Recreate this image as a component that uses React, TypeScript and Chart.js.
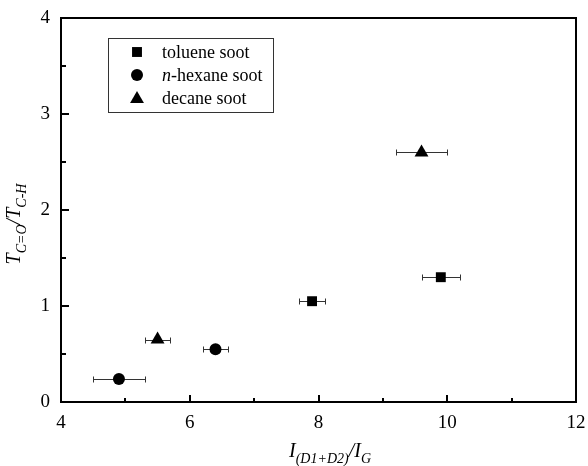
import React, { useEffect, useRef } from "react";
import { Chart, registerables } from "chart.js";

Chart.register(...registerables);

const seriesNames = ["toluene soot", "n-hexane soot", "decane soot"];
const tolueneX = [7.9, 9.9];
const tolueneY = [1.05, 1.3];
const tolueneXErr = [0.2, 0.3];
const hexaneX = [4.9, 6.4];
const hexaneY = [0.24, 0.55];
const hexaneXErr = [0.4, 0.2];
const decaneX = [5.5, 9.6];
const decaneY = [0.65, 2.6];
const decaneXErr = [0.2, 0.4];
const xTicks = [4, 6, 8, 10, 12];
const yTicks = [0, 1, 2, 3, 4];

const SERIF = "'Liberation Serif', 'Times New Roman', serif";

type Part = { t: string; sub?: boolean; it?: boolean };

function drawRich(ctx: CanvasRenderingContext2D, parts: Part[], cx: number, baseY: number, size: number) {
  const subSize = Math.round(size * 0.68);
  const fontOf = (p: Part) => `${p.it === false ? "" : "italic "}${p.sub ? subSize : size}px ${SERIF}`;
  let total = 0;
  const widths = parts.map((p) => {
    ctx.font = fontOf(p);
    const w = ctx.measureText(p.t).width;
    total += w;
    return w;
  });
  let x = cx - total / 2;
  ctx.textAlign = "left";
  ctx.textBaseline = "alphabetic";
  parts.forEach((p, i) => {
    ctx.font = fontOf(p);
    ctx.fillText(p.t, x, baseY + (p.sub ? size * 0.3 : 0));
    x += widths[i];
  });
}

function drawMarker(ctx: CanvasRenderingContext2D, style: string, x: number, y: number, r: number) {
  ctx.beginPath();
  if (style === "rect") {
    const s = r * Math.SQRT1_2;
    ctx.rect(x - s, y - s, 2 * s, 2 * s);
  } else if (style === "circle") {
    ctx.arc(x, y, r, 0, Math.PI * 2);
  } else {
    ctx.moveTo(x, y - r);
    ctx.lineTo(x + r * Math.sin(Math.PI / 3), y + r / 2);
    ctx.lineTo(x - r * Math.sin(Math.PI / 3), y + r / 2);
    ctx.closePath();
  }
  ctx.fill();
}

const framePlugin = {
  id: "frame",
  beforeDatasetsDraw(chart: any) {
    const { ctx } = chart;
    const xs = chart.scales.x;
    const ys = chart.scales.y;
    ctx.save();
    ctx.strokeStyle = "#333";
    ctx.lineWidth = 1;
    chart.data.datasets.forEach((ds: any) => {
      ds.data.forEach((pt: any, i: number) => {
        const e = ds.xErr[i];
        const x1 = Math.round(xs.getPixelForValue(pt.x - e)) + 0.5;
        const x2 = Math.round(xs.getPixelForValue(pt.x + e)) + 0.5;
        const y = Math.round(ys.getPixelForValue(pt.y)) + 0.5;
        ctx.beginPath();
        ctx.moveTo(x1, y);
        ctx.lineTo(x2, y);
        ctx.moveTo(x1, y - 3);
        ctx.lineTo(x1, y + 3);
        ctx.moveTo(x2, y - 3);
        ctx.lineTo(x2, y + 3);
        ctx.stroke();
      });
    });
    ctx.restore();
  },
  afterDatasetsDraw(chart: any) {
    const { ctx, chartArea: a } = chart;
    const xs = chart.scales.x;
    const ys = chart.scales.y;
    ctx.save();
    ctx.strokeStyle = "#000";
    ctx.lineWidth = 2;
    ctx.strokeRect(a.left, a.top, a.right - a.left, a.bottom - a.top);
    ctx.beginPath();
    for (let v = xs.min; v <= xs.max + 1e-9; v += 1) {
      const px = Math.round(xs.getPixelForValue(v));
      const len = Math.abs(v % 2) < 1e-9 ? 7 : 4;
      ctx.moveTo(px, a.bottom);
      ctx.lineTo(px, a.bottom - len);
    }
    for (let v = ys.min; v <= ys.max + 1e-9; v += 0.5) {
      const py = Math.round(ys.getPixelForValue(v));
      const len = Math.abs(v % 1) < 1e-9 ? 8 : 5;
      ctx.moveTo(a.left, py);
      ctx.lineTo(a.left + len, py);
    }
    ctx.stroke();

    // legend
    const lx = 108, ly = 38, lw = 165, lh = 74;
    ctx.lineWidth = 1;
    ctx.strokeStyle = "#333";
    ctx.strokeRect(lx + 0.5, ly + 0.5, lw, lh);
    ctx.fillStyle = "#000";
    chart.data.datasets.forEach((ds: any, i: number) => {
      const cy = ly + 14 + i * 23;
      const r = ds.pointStyle === "circle" ? 6 : ds.pointStyle === "triangle" ? 8 : 7;
      drawMarker(ctx, ds.pointStyle, 137, ds.pointStyle === "triangle" ? cy + 1 : cy, r);
      ctx.textBaseline = "middle";
      ctx.textAlign = "left";
      const label: string = ds.label;
      let x = 162;
      if (label.startsWith("n-")) {
        ctx.font = `italic 18px ${SERIF}`;
        ctx.fillText("n", x, cy + 1);
        x += ctx.measureText("n").width;
        ctx.font = `18px ${SERIF}`;
        ctx.fillText(label.slice(1), x, cy + 1);
      } else {
        ctx.font = `18px ${SERIF}`;
        ctx.fillText(label, x, cy + 1);
      }
    });

    // axis titles
    ctx.fillStyle = "#000";
    drawRich(
      ctx,
      [{ t: "I" }, { t: "(D1+D2)", sub: true }, { t: "/" }, { t: "I" }, { t: "G", sub: true }],
      330,
      457,
      20
    );
    ctx.save();
    ctx.translate(20, 224);
    ctx.rotate(-Math.PI / 2);
    drawRich(
      ctx,
      [{ t: "T" }, { t: "C=O", sub: true }, { t: "/" }, { t: "T" }, { t: "C-H", sub: true }],
      0,
      0,
      20
    );
    ctx.restore();
    ctx.restore();
  },
};

export default function App() {
  const ref = useRef<HTMLCanvasElement>(null);
  useEffect(() => {
    if (!ref.current) return;
    const mk = (xv: number[], yv: number[]) => xv.map((x, i) => ({ x, y: yv[i] }));
    const chart = new Chart(ref.current, {
      type: "scatter",
      data: {
        datasets: [
          { label: seriesNames[0], data: mk(tolueneX, tolueneY), xErr: tolueneXErr, pointStyle: "rect", pointRadius: 7, backgroundColor: "#000", borderColor: "#000", borderWidth: 0 } as any,
          { label: seriesNames[1], data: mk(hexaneX, hexaneY), xErr: hexaneXErr, pointStyle: "circle", pointRadius: 6, backgroundColor: "#000", borderColor: "#000", borderWidth: 0 } as any,
          { label: seriesNames[2], data: mk(decaneX, decaneY), xErr: decaneXErr, pointStyle: "triangle", pointRadius: 8, backgroundColor: "#000", borderColor: "#000", borderWidth: 0 } as any,
        ],
      },
      options: {
        animation: false,
        responsive: true,
        maintainAspectRatio: false,
        layout: { padding: { top: 18, right: 12, left: 0, bottom: 0 } },
        plugins: { legend: { display: false }, tooltip: { enabled: false } },
        scales: {
          x: {
            type: "linear",
            min: 4,
            max: 12,
            afterBuildTicks: (s: any) => { s.ticks = xTicks.map((v) => ({ value: v })); },
            afterFit: (s: any) => { s.height = 64; s.paddingLeft = 0; s.paddingRight = 0; },
            grid: { display: false, drawTicks: false },
            border: { display: false },
            ticks: { color: "#000", font: { family: SERIF, size: 19 }, padding: 10, maxRotation: 0 },
          },
          y: {
            type: "linear",
            min: 0,
            max: 4,
            afterBuildTicks: (s: any) => { s.ticks = yTicks.map((v) => ({ value: v })); },
            afterFit: (s: any) => { s.width = 61; s.paddingTop = 0; s.paddingBottom = 0; },
            grid: { display: false, drawTicks: false },
            border: { display: false },
            ticks: { color: "#000", font: { family: SERIF, size: 19 }, padding: 11 },
          },
        },
      },
      plugins: [framePlugin],
    } as any);
    return () => chart.destroy();
  }, []);
  return (
    <div style={{ position: "absolute", left: 0, top: 0, width: 588, height: 466, background: "#fff" }}>
      <canvas ref={ref} />
    </div>
  );
}
